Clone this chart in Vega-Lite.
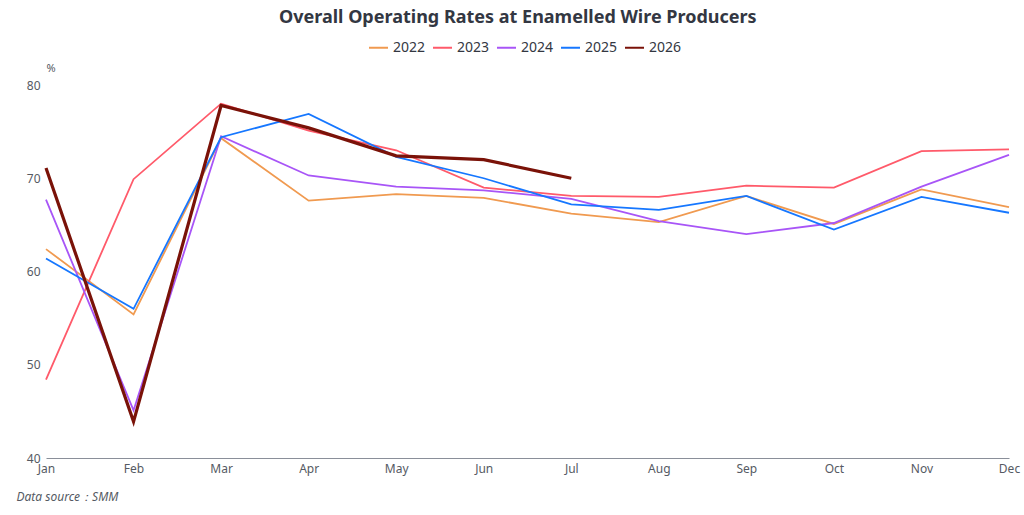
{
  "$schema": "https://vega.github.io/schema/vega-lite/v6.json",
  "width": 963,
  "height": 373,
  "autosize": {"type": "none"},
  "padding": {"left": 46, "top": 85, "right": 15, "bottom": 57},
  "background": "white",
  "config": {
    "font": "Noto Sans",
    "view": {"stroke": null}
  },
  "title": {
    "text": "Overall Operating Rates at Enamelled Wire Producers",
    "fontSize": 18,
    "fontWeight": "bold",
    "color": "#333742",
    "anchor": "middle",
    "frame": "bounds",
    "offset": 10
  },
  "data": {
    "values": [
      {"month": "Jan", "year": "2022", "value": 62.4},
      {"month": "Feb", "year": "2022", "value": 55.4},
      {"month": "Mar", "year": "2022", "value": 74.3},
      {"month": "Apr", "year": "2022", "value": 67.6},
      {"month": "May", "year": "2022", "value": 68.3},
      {"month": "Jun", "year": "2022", "value": 67.9},
      {"month": "Jul", "year": "2022", "value": 66.2},
      {"month": "Aug", "year": "2022", "value": 65.3},
      {"month": "Sep", "year": "2022", "value": 68.1},
      {"month": "Oct", "year": "2022", "value": 65.1},
      {"month": "Nov", "year": "2022", "value": 68.8},
      {"month": "Dec", "year": "2022", "value": 66.9},
      {"month": "Jan", "year": "2023", "value": 48.4},
      {"month": "Feb", "year": "2023", "value": 69.9},
      {"month": "Mar", "year": "2023", "value": 78.0},
      {"month": "Apr", "year": "2023", "value": 75.1},
      {"month": "May", "year": "2023", "value": 73.0},
      {"month": "Jun", "year": "2023", "value": 69.0},
      {"month": "Jul", "year": "2023", "value": 68.1},
      {"month": "Aug", "year": "2023", "value": 68.0},
      {"month": "Sep", "year": "2023", "value": 69.2},
      {"month": "Oct", "year": "2023", "value": 69.0},
      {"month": "Nov", "year": "2023", "value": 72.9},
      {"month": "Dec", "year": "2023", "value": 73.1},
      {"month": "Jan", "year": "2024", "value": 67.7},
      {"month": "Feb", "year": "2024", "value": 45.1},
      {"month": "Mar", "year": "2024", "value": 74.5},
      {"month": "Apr", "year": "2024", "value": 70.3},
      {"month": "May", "year": "2024", "value": 69.1},
      {"month": "Jun", "year": "2024", "value": 68.7},
      {"month": "Jul", "year": "2024", "value": 67.8},
      {"month": "Aug", "year": "2024", "value": 65.4},
      {"month": "Sep", "year": "2024", "value": 64.0},
      {"month": "Oct", "year": "2024", "value": 65.2},
      {"month": "Nov", "year": "2024", "value": 69.1},
      {"month": "Dec", "year": "2024", "value": 72.5},
      {"month": "Jan", "year": "2025", "value": 61.4},
      {"month": "Feb", "year": "2025", "value": 56.0},
      {"month": "Mar", "year": "2025", "value": 74.4},
      {"month": "Apr", "year": "2025", "value": 76.9},
      {"month": "May", "year": "2025", "value": 72.3},
      {"month": "Jun", "year": "2025", "value": 70.0},
      {"month": "Jul", "year": "2025", "value": 67.2},
      {"month": "Aug", "year": "2025", "value": 66.6},
      {"month": "Sep", "year": "2025", "value": 68.1},
      {"month": "Oct", "year": "2025", "value": 64.5},
      {"month": "Nov", "year": "2025", "value": 68.0},
      {"month": "Dec", "year": "2025", "value": 66.3},
      {"month": "Jan", "year": "2026", "value": 71.1},
      {"month": "Feb", "year": "2026", "value": 43.9},
      {"month": "Mar", "year": "2026", "value": 77.8},
      {"month": "Apr", "year": "2026", "value": 75.4},
      {"month": "May", "year": "2026", "value": 72.4},
      {"month": "Jun", "year": "2026", "value": 72.0},
      {"month": "Jul", "year": "2026", "value": 70.0}
    ]
  },
  "encoding": {
    "x": {
      "field": "month",
      "type": "ordinal",
      "sort": ["Jan","Feb","Mar","Apr","May","Jun","Jul","Aug","Sep","Oct","Nov","Dec"],
      "scale": {"type": "point", "padding": 0},
      "axis": {
        "labelAngle": 0,
        "labelColor": "#555a63",
        "labelFontSize": 12,
        "labelPadding": 5,
        "ticks": false,
        "grid": false,
        "domainColor": "#8a8f99",
        "domainWidth": 1.2,
        "title": "Data source：SMM",
        "titleFontStyle": "italic",
        "titleFontWeight": "normal",
        "titleFontSize": 12,
        "titleColor": "#555a63",
        "titleAnchor": "start",
        "titleAlign": "left",
        "titleBaseline": "middle",
        "titleX": -30,
        "titleY": 38
      }
    },
    "y": {
      "field": "value",
      "type": "quantitative",
      "scale": {"domain": [40, 80], "nice": false, "zero": false},
      "axis": {
        "values": [40, 50, 60, 70, 80],
        "labelColor": "#555a63",
        "labelFontSize": 12,
        "labelPadding": 6,
        "ticks": false,
        "grid": false,
        "domain": false,
        "title": "%",
        "titleAngle": 0,
        "titleFontWeight": "normal",
        "titleFontSize": 11,
        "titleColor": "#555a63",
        "titleAlign": "left",
        "titleBaseline": "bottom",
        "titleX": 0,
        "titleY": -12
      }
    },
    "color": {
      "field": "year",
      "type": "nominal",
      "scale": {
        "domain": ["2022", "2023", "2024", "2025", "2026"],
        "range": ["#F09A50", "#FF5A6A", "#A855F7", "#1677FF", "#7A1208"]
      },
      "legend": {
        "title": null,
        "orient": "none",
        "direction": "horizontal",
        "legendX": 322,
        "legendY": -48,
        "symbolType": "stroke",
        "symbolSize": 361,
        "symbolStrokeWidth": 2,
        "labelFontSize": 14,
        "labelFontWeight": "normal",
        "labelColor": "#333742",
        "columnPadding": 3,
        "labelOffset": 4
      }
    }
  },
  "layer": [
    {
      "transform": [{"filter": "datum.year != '2026'"}],
      "mark": {"type": "line", "strokeJoin": "miter", "strokeWidth": 1.8}
    },
    {
      "transform": [{"filter": "datum.year == '2026'"}],
      "mark": {"type": "line", "strokeJoin": "miter", "strokeWidth": 3.2}
    }
  ]
}
